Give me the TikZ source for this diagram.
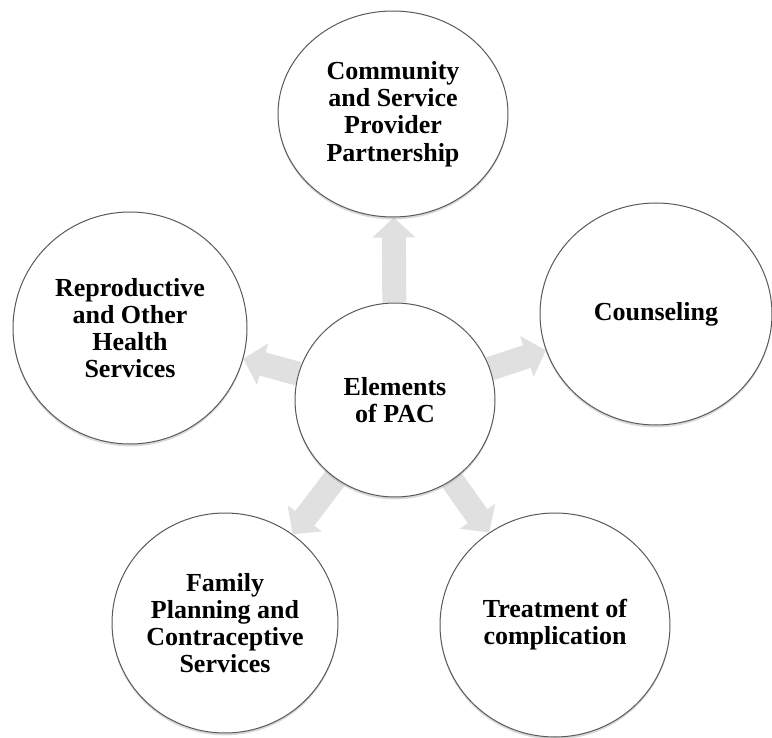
\documentclass[tikz,border=0pt]{standalone}
\usepackage{fontspec}
\setmainfont{Liberation Serif}
\usetikzlibrary{positioning,shapes.geometric,arrows.meta,shadows,backgrounds}

\begin{document}
\begin{tikzpicture}[x=0.5pt,y=-0.5pt]
	\tikzset{
		pacbubble/.style={
			shape=ellipse,
			draw=black!65,
			line width=0.5pt,
			fill=white,
			inner sep=0pt,
			align=center,
			font=\fontsize{13}{13.6}\selectfont\bfseries,
			drop shadow={shadow xshift=0pt,shadow yshift=-1.2pt,opacity=0.3}
		},
		pacarrow/.style={draw=black!12,line width=12pt,-{Triangle[width=21pt,length=10pt]}}
	}
	\useasboundingbox (0,0) rectangle (772,738);

	\node[pacbubble,minimum width=100pt,minimum height=97pt] (pac) at (395,400) {Elements\\of PAC};
	\node[pacbubble,minimum width=115pt,minimum height=103pt] (comm) at (393,114) {Community\\and Service\\Provider\\Partnership};
	\node[pacbubble,minimum width=116pt,minimum height=111pt] (coun) at (656,314) {Counseling};
	\node[pacbubble,minimum width=117pt,minimum height=116pt] (repro) at (130,328) {Reproductive\\and Other\\Health\\Services};
	\node[pacbubble,minimum width=113pt,minimum height=110pt] (fam) at (225,623) {Family\\Planning and\\Contraceptive\\Services};
	\node[pacbubble,minimum width=115pt,minimum height=112pt] (treat) at (555,625) {Treatment of\\complication};

	\begin{scope}[on background layer]
		\draw[pacarrow] (pac) -- (comm);
		\draw[pacarrow] (pac) -- (coun);
		\draw[pacarrow] (pac) -- (repro);
		\draw[pacarrow] (pac) -- (fam);
		\draw[pacarrow] (pac) -- (treat);
	\end{scope}
\end{tikzpicture}
\end{document}
